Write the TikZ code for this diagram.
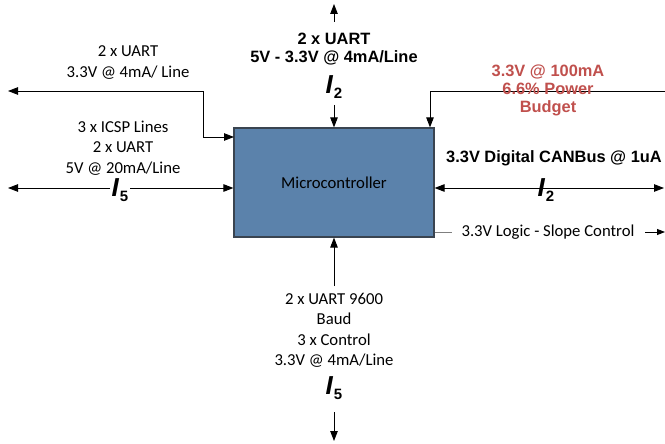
\documentclass[tikz,border=0pt]{standalone}
\usepackage{fontspec}
\setmainfont{Carlito}
\newfontfamily\arialfont{Liberation Sans}
\usetikzlibrary{arrows.meta}
\definecolor{mcblue}{HTML}{5B82AB}
\definecolor{mcborder}{HTML}{3A4450}
\definecolor{budgetred}{HTML}{C0504D}
\definecolor{slopegray}{HTML}{7F7F7F}
\begin{document}
\begin{tikzpicture}[x=1pt,y=-1pt,
  >={Triangle[length=10pt,width=7.5pt]},
  conn/.style={line width=0.9pt, black},
  mcbox/.style={draw=mcborder, line width=1.2pt, fill=mcblue, minimum width=200pt, minimum height=109pt, inner sep=0pt, font=\fontsize{16.7}{19}\selectfont},
  reg/.style={align=center, inner sep=1pt, font=\fontsize{16.7}{20.4}\selectfont},
  bld/.style={align=center, inner sep=1pt, font=\arialfont\bfseries\fontsize{16.4}{18}\selectfont},
  redtxt/.style={bld, text=budgetred},
  buslbl/.style={inner sep=2pt, font=\arialfont\bfseries\fontsize{26}{26}\selectfont}
]
\useasboundingbox (0,0) rectangle (665,444);
\newcommand{\buswidth}[1]{\textit{I}\kern0.5pt\raisebox{-5pt}{\fontsize{15}{15}\selectfont #1}}

% microcontroller
\node[mcbox] (mc) at (334,182.5) {Microcontroller};

% top
\node[bld] (topTxt) at (334,49) {2 x UART\\5V - 3.3V @ 4mA/Line};
\node[buslbl] (topBus) at (334,87) {\buswidth{2}};
\coordinate (topA) at (334,22);
\coordinate (topEnd) at (334,4);
\coordinate (topB) at (334,105);
\draw[conn,->] (topA) -- (topEnd);
\draw[conn,->] (topB) -- (mc.north -| topB);

% left top
\node[reg] (ltTxt) at (128,62.5) {2 x UART\\3.3V @ 4mA/ Line};
\coordinate (ltEnd) at (8,91);
\coordinate (ltBend) at (203,91);
\coordinate (mcIn1) at (234,137);
\draw[conn,<->] (ltEnd) -- (ltBend) |- (mcIn1);

% left bottom
\node[reg] (lbTxt) at (123,148) {3 x ICSP Lines\\2 x UART\\5V @ 20mA/Line};
\coordinate (lbEnd) at (8,188);
\draw[conn,<->] (lbEnd) -- (lbEnd -| mc.west);
\node[buslbl, fill=white] (lbBus) at (120,190) {\buswidth{5}};

% right top
\coordinate (rtEnd) at (665,91);
\coordinate (rtBend) at (430,91);
\draw[conn,->] (rtEnd) -- (rtBend) -- (rtBend |- mc.north);
\node[redtxt] (budget) at (548,90) {3.3V @ 100mA\\6.6\% Power\\Budget};

% right CANBus
\node[bld] (canTxt) at (554,158) {3.3V Digital CANBus @ 1uA};
\coordinate (rbEnd) at (664,188);
\draw[conn,<->] (rbEnd -| mc.east) -- (rbEnd);
\node[buslbl] (rbBus) at (546,190) {\buswidth{2}};

% slope control
\node[reg] (slope) at (548,232) {3.3V Logic - Slope Control};
\coordinate (slA) at (452,232);
\coordinate (slB) at (645,232);
\coordinate (slEnd) at (665,232);
\draw[line width=1pt, slopegray] (slA -| mc.east) -- (slA);
\draw[conn, -{Triangle[length=8pt,width=6pt]}] (slB) -- (slEnd);

% bottom
\node[reg] (botTxt) at (334,330.5) {2 x UART 9600\\Baud\\3 x Control\\3.3V @ 4mA/Line};
\node[buslbl] (botBus) at (334,388) {\buswidth{5}};
\coordinate (botA) at (334,286);
\coordinate (botB) at (334,412);
\coordinate (botEnd) at (334,441);
\draw[conn,->] (botA) -- (botA |- mc.south);
\draw[conn,->] (botB) -- (botEnd);
\end{tikzpicture}
\end{document}
